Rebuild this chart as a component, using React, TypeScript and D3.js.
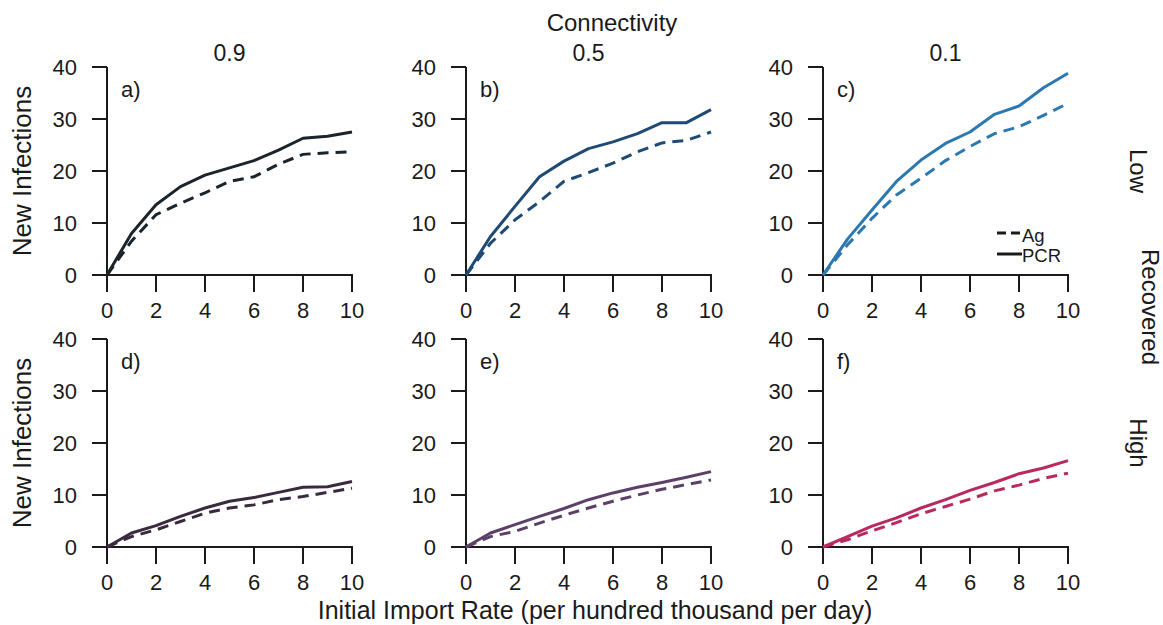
import * as d3 from 'd3';

const xValues = [0, 1, 2, 3, 4, 5, 6, 7, 8, 9, 10];
const xTickValues = [0, 2, 4, 6, 8, 10];
const yTickValues = [0, 10, 20, 30, 40];

const connectivity = ['0.9', '0.5', '0.1'];
const recoveredLevels = ['Low', 'High'];
const panelLetters = ['a)', 'b)', 'c)', 'd)', 'e)', 'f)'];
const panelColors = ['#1b232b', '#1f4a73', '#2c78b0', '#3a2a3f', '#5d4068', '#b8295f'];

// new infections, low recovered row
const pcrA = [0, 8.0, 13.5, 17.0, 19.2, 20.6, 22.0, 24.0, 26.3, 26.7, 27.5];
const agA = [0, 6.5, 11.6, 13.8, 15.8, 18.0, 18.9, 21.3, 23.2, 23.5, 23.7];
const pcrB = [0, 7.4, 13.2, 18.9, 21.9, 24.3, 25.6, 27.2, 29.3, 29.3, 31.8];
const agB = [0, 6.1, 10.6, 14.1, 18.0, 19.7, 21.5, 23.7, 25.4, 25.9, 27.5];
const pcrC = [0, 6.9, 12.5, 18.0, 22.1, 25.3, 27.5, 30.9, 32.5, 36.0, 38.8];
const agC = [0, 5.8, 10.9, 15.4, 18.6, 22.0, 24.7, 27.2, 28.5, 30.7, 33.0];
// new infections, high recovered row
const pcrD = [0, 2.7, 4.1, 5.9, 7.5, 8.8, 9.5, 10.5, 11.5, 11.6, 12.6];
const agD = [0, 2.0, 3.3, 4.9, 6.5, 7.5, 8.1, 9.1, 9.7, 10.5, 11.3];
const pcrE = [0, 2.7, 4.3, 5.9, 7.4, 9.1, 10.4, 11.5, 12.4, 13.4, 14.5];
const agE = [0, 2.0, 3.0, 4.6, 6.1, 7.5, 8.8, 10.0, 11.1, 12.0, 12.9];
const pcrF = [0, 2.0, 4.0, 5.6, 7.5, 9.1, 10.9, 12.4, 14.1, 15.2, 16.6];
const agF = [0, 1.4, 3.1, 4.7, 6.4, 7.8, 9.2, 10.8, 11.9, 13.2, 14.2];

const pcrSeries = [pcrA, pcrB, pcrC, pcrD, pcrE, pcrF];
const agSeries = [agA, agB, agC, agD, agE, agF];

const W = 1163;
const H = 625;
const colLeft = [107, 466, 823];
const rowTop = [67, 339];
const panelW = 245;
const panelH = 208;
const font = '"Liberation Sans", Arial, sans-serif';
const ink = '#1a1a1a';

function Panel({ col, row, idx }: { col: number; row: number; idx: number }) {
  const left = colLeft[col];
  const top = rowTop[row];
  const x = d3.scaleLinear().domain([0, 10]).range([left, left + panelW]);
  const y = d3.scaleLinear().domain([0, 40]).range([top + panelH, top]);
  const line = d3
    .line<number>()
    .x((_, i) => x(xValues[i]))
    .y((d) => y(d));
  const color = panelColors[idx];
  const base = y(0);

  return (
    <g>
      {/* y axis */}
      <line x1={x(0)} x2={x(0)} y1={y(40)} y2={base + 17} stroke={ink} strokeWidth={2} />
      {yTickValues.map((v) => (
        <g key={'y' + v}>
          <line x1={x(0) - 15} x2={x(0)} y1={y(v)} y2={y(v)} stroke={ink} strokeWidth={2} />
          <text x={x(0) - 30} y={y(v) + 7.5} textAnchor="end" fontSize={22} fill={ink}>
            {v}
          </text>
        </g>
      ))}
      {/* x axis */}
      <line x1={x(0) - 15} x2={x(10) + 1} y1={base} y2={base} stroke={ink} strokeWidth={2} />
      {xTickValues.map((v) => (
        <g key={'x' + v}>
          <line x1={x(v)} x2={x(v)} y1={base} y2={base + 17} stroke={ink} strokeWidth={2} />
          <text x={x(v)} y={base + 43} textAnchor="middle" fontSize={22} fill={ink}>
            {v}
          </text>
        </g>
      ))}
      <text x={left + 14} y={top + 30} fontSize={22} fill={ink}>
        {panelLetters[idx]}
      </text>
      <path d={line(agSeries[idx]) || ''} fill="none" stroke={color} strokeWidth={3} strokeDasharray="11 7" />
      <path d={line(pcrSeries[idx]) || ''} fill="none" stroke={color} strokeWidth={3} strokeLinejoin="round" />
    </g>
  );
}

export default function App() {
  const legendX = 997;
  return (
    <svg width={W} height={H} style={{ position: 'absolute', left: 0, top: 0 }} fontFamily={font}>
      <rect width={W} height={H} fill="#ffffff" />
      <text x={612} y={31} textAnchor="middle" fontSize={24} fill={ink}>
        Connectivity
      </text>
      {connectivity.map((c, i) => (
        <text key={c} x={colLeft[i] + panelW / 2} y={61} textAnchor="middle" fontSize={23} fill={ink}>
          {c}
        </text>
      ))}
      {[0, 1].map((r) =>
        [0, 1, 2].map((c) => <Panel key={r * 3 + c} col={c} row={r} idx={r * 3 + c} />)
      )}
      {[0, 1].map((r) => (
        <text
          key={'yt' + r}
          transform={`translate(31, ${rowTop[r] + panelH / 2}) rotate(-90)`}
          textAnchor="middle"
          fontSize={26}
          fill={ink}
        >
          New Infections
        </text>
      ))}
      <text x={595} y={619} textAnchor="middle" fontSize={25} fill={ink}>
        Initial Import Rate (per hundred thousand per day)
      </text>
      {recoveredLevels.map((lvl, r) => (
        <text
          key={lvl}
          transform={`translate(1130, ${rowTop[r] + panelH / 2}) rotate(90)`}
          textAnchor="middle"
          fontSize={24}
          fill={ink}
        >
          {lvl}
        </text>
      ))}
      <text transform={`translate(1142, 307) rotate(90)`} textAnchor="middle" fontSize={24} fill={ink}>
        Recovered
      </text>
      {/* legend */}
      <line x1={legendX} x2={legendX + 25} y1={233} y2={233} stroke={ink} strokeWidth={3} strokeDasharray="9 5" />
      <text x={legendX + 25} y={242} fontSize={18.5} fill={ink}>
        Ag
      </text>
      <line x1={legendX} x2={legendX + 25} y1={254} y2={254} stroke={ink} strokeWidth={3} />
      <text x={legendX + 25} y={262} fontSize={18.5} fill={ink}>
        PCR
      </text>
    </svg>
  );
}
